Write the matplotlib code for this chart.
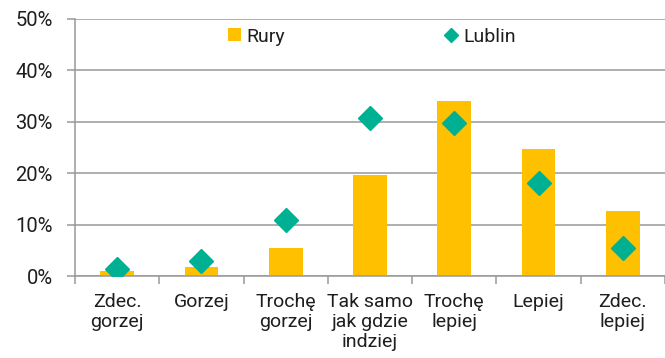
import matplotlib
matplotlib.use("Agg")
import matplotlib.pyplot as plt
from matplotlib.lines import Line2D
from matplotlib.patches import Patch
import numpy as np

categories = ["Zdec.\ngorzej", "Gorzej", "Trochę\ngorzej", "Tak samo\njak gdzie\nindziej",
              "Trochę\nlepiej", "Lepiej", "Zdec.\nlepiej"]
rury = [0.9, 1.7, 5.4, 19.7, 34.0, 24.7, 12.7]
lublin = [1.4, 3.0, 10.8, 30.7, 29.8, 18.0, 5.5]
yticks = [0, 10, 20, 30, 40, 50]
ytick_labels = ["0%", "10%", "20%", "30%", "40%", "50%"]

bar_color = "#FFC000"
dot_color = "#00B092"
grid_color = "#999999"
text_color = "#1e1e1e"

plt.rcParams["font.family"] = ["Roboto", "DejaVu Sans"]

fig = plt.figure(figsize=(6.65, 3.58), dpi=100)
ax = fig.add_axes([75 / 665, 1 - 276 / 358, 1 - 75 / 665, (276 - 19) / 358])

x = np.arange(len(categories))
ax.bar(x, rury, width=0.40, color=bar_color, zorder=2)
ax.plot(x, lublin, linestyle="none", marker="D", markersize=12.2,
        color=dot_color, zorder=3)

ax.set_xlim(-0.5, len(categories) - 0.5)
ax.set_ylim(0, 50)
ax.set_yticks(yticks)
ax.set_yticklabels(ytick_labels)
ax.yaxis.grid(True, color=grid_color, linewidth=1.1, zorder=0)
ax.set_axisbelow(True)

ax.set_xticks(x)
ax.set_xticklabels(categories, linespacing=1.15)
ax.set_xticks(np.arange(len(categories) + 1) - 0.5, minor=True)
ax.tick_params(axis="x", which="major", length=0, pad=12, labelsize=14, labelcolor=text_color)
ax.tick_params(axis="x", which="minor", length=6, width=1.1, color=grid_color, direction="out")
ax.tick_params(axis="y", length=6, width=1.1, color=grid_color, pad=10,
               labelsize=14.5, labelcolor=text_color)

for side in ["top", "right"]:
    ax.spines[side].set_visible(False)
for side in ["left", "bottom"]:
    ax.spines[side].set_color(grid_color)
    ax.spines[side].set_linewidth(1.1)

handles = [Patch(facecolor=bar_color, edgecolor="none", label="Rury"),
           Line2D([], [], linestyle="none", marker="D", markersize=7.5,
                  color=dot_color, label="Lublin")]
ax.legend(handles=handles, loc="upper center", bbox_to_anchor=(0.503, 1.035), ncol=2,
          frameon=False, fontsize=14, columnspacing=8.2, handlelength=0.65,
          handletextpad=0.3, handleheight=0.65, labelcolor=text_color)

fig.savefig("out.png", dpi=100)
